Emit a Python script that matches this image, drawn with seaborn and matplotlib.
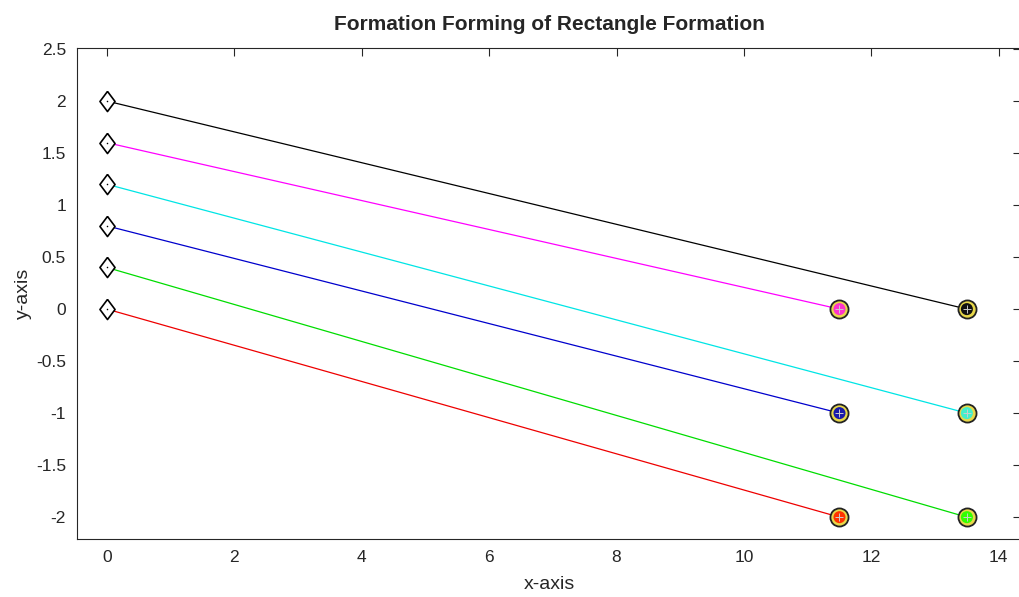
import matplotlib
matplotlib.use("Agg")
import matplotlib.pyplot as plt
import seaborn as sns
import pandas as pd

sns.set_style("white")
plt.rcParams['font.family'] = ['Liberation Sans Narrow', 'Liberation Sans', 'DejaVu Sans']

# data
agents = ["A1", "A2", "A3", "A4", "A5", "A6"]
start_x = [0, 0, 0, 0, 0, 0]
start_y = [2.0, 1.6, 1.2, 0.8, 0.4, 0.0]
end_x = [13.5, 11.5, 13.5, 11.5, 13.5, 11.5]
end_y = [0.0, 0.0, -1.0, -1.0, -2.0, -2.0]
line_colors = ["#000000", "#ff00ff", "#00e5e5", "#0000cc", "#00dd00", "#ee0000"]
end_colors = ["#111111", "#ff33cc", "#44eecc", "#1a1aaa", "#33ff00", "#ff3300"]

xticks = [0, 2, 4, 6, 8, 10, 12, 14]
yticks = [-2, -1.5, -1, -0.5, 0, 0.5, 1, 1.5, 2, 2.5]
ytick_labels = ["-2", "-1.5", "-1", "-0.5", "0", "0.5", "1", "1.5", "2", "2.5"]

rows = []
for a, sx, sy, ex, ey in zip(agents, start_x, start_y, end_x, end_y):
    rows.append({"agent": a, "x": sx, "y": sy, "pt": "start"})
    rows.append({"agent": a, "x": ex, "y": ey, "pt": "end"})
df = pd.DataFrame(rows)

fig = plt.figure(figsize=(10.2, 5.97), dpi=100)
ax = fig.add_axes([77 / 1020, 58 / 597, 944 / 1020, 491 / 597])

pal = dict(zip(agents, line_colors))
sns.lineplot(data=df, x="x", y="y", hue="agent", palette=pal, units="agent",
             estimator=None, sort=False, legend=False, linewidth=0.9, ax=ax)

diamond = [(0, 1), (0.75, 0), (0, -1), (-0.75, 0), (0, 1)]
starts = df[df.pt == "start"]
ends = df[df.pt == "end"]
sns.scatterplot(data=starts, x="x", y="y", marker=diamond, s=210, facecolor="white",
                edgecolor="black", linewidth=1.2, legend=False, ax=ax, zorder=3)
sns.scatterplot(data=starts, x="x", y="y", marker=".", s=6, color="black",
                legend=False, ax=ax, zorder=4)
sns.scatterplot(data=ends, x="x", y="y", marker="o", s=170, facecolor="#e8d84a",
                edgecolor="#222222", linewidth=1.3, legend=False, ax=ax, zorder=3)
endpal = dict(zip(agents, end_colors))
sns.scatterplot(data=ends, x="x", y="y", hue="agent", palette=endpal, marker="o", s=75,
                edgecolor="none", legend=False, ax=ax, zorder=4)
sns.scatterplot(data=ends, x="x", y="y", marker="+", s=28, color="#cccccc",
                linewidth=0.7, legend=False, ax=ax, zorder=5)

ax.set_xlim(-0.47, -0.47 + 944 / 63.7)
ax.set_ylim(-2.21, 2.51)
ax.set_xticks(xticks)
ax.set_xticklabels([str(t) for t in xticks])
ax.set_yticks(yticks)
ax.set_yticklabels(ytick_labels)
ax.tick_params(direction="in", top=True, right=True, length=6, width=0.8,
               labelsize=12.5, colors="#262626", pad=8)
for s in ax.spines.values():
    s.set_color("#262626")
    s.set_linewidth(0.8)
ax.set_xlabel("x-axis", fontsize=14, color="#262626", labelpad=8)
ax.set_ylabel("y-axis", fontsize=14, color="#262626", labelpad=3)
ax.set_title("Formation Forming of Rectangle Formation", fontsize=15,
             fontweight="bold", pad=13)

fig.savefig("out.png", dpi=100)
